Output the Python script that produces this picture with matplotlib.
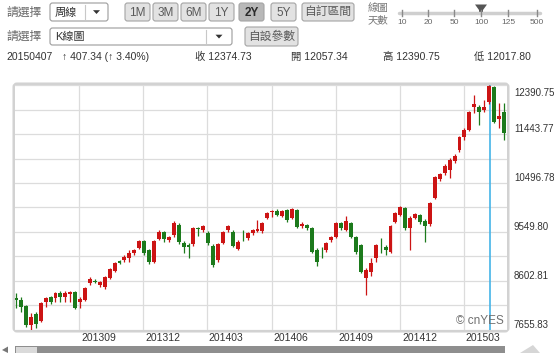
import datetime as dt
import numpy as np
import matplotlib
matplotlib.use('Agg')
import matplotlib.pyplot as plt
import matplotlib.dates as mdates
from matplotlib.patches import FancyBboxPatch, Rectangle, Polygon

plt.rcParams['font.family'] = ['Liberation Sans', 'Noto Sans CJK TC', 'DejaVu Sans']

# weekly K bars, first week starts 2013-06-03
start_week = dt.date(2013, 6, 3)
opens = [
    8274, 8236, 8120, 7752, 7965, 7830, 8197, 8294, 8274, 8371,
    8294, 8352, 8390, 8197, 8236, 8564, 8612, 8526, 8487, 8661,
    8796, 8980, 9009, 9047, 9144, 9241, 9376, 9202, 8970, 9415,
    9550, 9395, 9492, 9685, 9337, 9299, 9318, 9627, 9588, 9530,
    9279, 9009, 9337, 9588, 9550, 9221, 9424, 9434, 9530, 9569,
    9569, 9820, 9927, 9956, 9859, 9975, 9820, 9975, 9666, 9685,
    9627, 9202, 9076, 9202, 9395, 9453, 9724, 9588, 9724, 9453,
    9299, 8661, 8777, 9047, 9250, 9260, 9163, 9743, 9878, 10014,
    9627, 9820, 9878, 9762, 9704, 10207, 10574, 10690, 10748, 10922,
    11135, 11386, 11521, 11966, 11966, 11908, 12057.34, 12352, 11734, 11869,
]
highs = [
    8371, 8294, 8139, 7984, 8004, 8197, 8294, 8313, 8390, 8410,
    8410, 8410, 8410, 8294, 8487, 8680, 8641, 8603, 8699, 8854,
    8970, 9009, 9105, 9202, 9221, 9395, 9395, 9221, 9395, 9588,
    9569, 9473, 9762, 9724, 9376, 9337, 9646, 9646, 9685, 9569,
    9318, 9337, 9569, 9685, 9588, 9395, 9588, 9550, 9608, 9782,
    9743, 9936, 9975, 9994, 9975, 9994, 10014, 9994, 9743, 9704,
    9646, 9241, 9260, 9357, 9473, 9743, 9743, 9859, 9743, 9473,
    9318, 8854, 9047, 9318, 9434, 9299, 9685, 9936, 10052, 10033,
    9859, 9917, 9898, 9801, 10130, 10632, 10690, 10864, 10980, 11057,
    11405, 11560, 11888, 12198, 12004, 12101, 12390.75, 12380, 12043, 12043,
]
lows = [
    8081, 8004, 7714, 7655.83, 7694, 7810, 8100, 8158, 8197, 8197,
    8197, 8197, 8062, 8081, 8216, 8526, 8564, 8487, 8448, 8641,
    8777, 8931, 8970, 8970, 9105, 9221, 9105, 8931, 8951, 9395,
    9357, 9357, 9453, 9318, 9144, 9047, 9279, 9473, 9550, 9299,
    8873, 8970, 9318, 9550, 9260, 9202, 9376, 9395, 9492, 9550,
    9530, 9801, 9840, 9859, 9840, 9743, 9801, 9627, 9627, 9588,
    9144, 8893, 9047, 9163, 9357, 9434, 9588, 9569, 9434, 9125,
    8757, 8332, 8699, 8970, 9144, 9105, 9144, 9724, 9859, 9588,
    9202, 9801, 9704, 9357, 9666, 10188, 10535, 10651, 10593, 10883,
    11096, 11328, 11502, 11850, 11618, 11869, 12017.80, 11656, 11560, 11328,
]
closes = [
    8236, 8100, 7752, 7907, 7772, 8178, 8274, 8197, 8371, 8294,
    8371, 8390, 8081, 8255, 8468, 8641, 8593, 8583, 8680, 8835,
    8951, 8960, 9067, 9144, 9202, 9376, 9144, 8970, 9376, 9550,
    9415, 9453, 9724, 9357, 9260, 9260, 9627, 9608, 9666, 9337,
    8912, 9318, 9550, 9666, 9279, 9357, 9405, 9530, 9588, 9608,
    9724, 9917, 9946, 9878, 9956, 9782, 9994, 9646, 9704, 9627,
    9163, 8970, 9057, 9337, 9453, 9724, 9627, 9762, 9453, 9163,
    8777, 8815, 8951, 9299, 9231, 9202, 9666, 9917, 10033, 9627,
    9820, 9898, 9743, 9666, 10110, 10613, 10671, 10825, 10941, 11019,
    11386, 11521, 11869, 12024, 11869, 11967.39, 12374.73, 11676, 11792, 11463,
]
cursor = 96   # week shown in the info line

month_ticks = ['2013-09-01', '2013-12-01', '2014-03-01', '2014-06-01',
               '2014-09-01', '2014-12-01', '2015-03-01']
month_labels = ['201309', '201312', '201403', '201406', '201409', '201412', '201503']

info_date = '20150407'
info_change = '↑ 407.34 (↑ 3.40%)'
info_fields = [('收', '12374.73'), ('開', '12057.34'), ('高', '12390.75'), ('低', '12017.80')]

periods = ['1M', '3M', '6M', '1Y', '2Y', '5Y', '自訂區間']
slider_days = ['10', '20', '50', '100', '125', '500']

RED = '#cc1414'
GREEN = '#1c7a1c'
GRID = '#dcdcdc'

fig = plt.figure(figsize=(5.54, 3.53), dpi=100)
ui = fig.add_axes([0, 0, 1, 1])
ui.set_xlim(0, 554)
ui.set_ylim(353, 0)
ui.axis('off')


def box(x0, x1, y0, y1, fc, ec='#a0a0a0', r=2.5, lw=0.8):
    ui.add_patch(FancyBboxPatch((x0, y0), x1 - x0, y1 - y0,
                                boxstyle=f'round,pad=0,rounding_size={r}',
                                fc=fc, ec=ec, lw=lw))


def dropdown(x0, x1, y0, y1, label, sep):
    box(x0, x1, y0, y1, 'white', ec='#9c9c9c')
    ui.plot([sep, sep], [y0 + 2, y1 - 2], color='#c8c8c8', lw=0.8)
    ui.text(x0 + 5, (y0 + y1) / 2 + 0.5, label, ha='left', va='center',
            fontsize=8, color='#333333')
    cx, cy = (sep + x1) / 2, (y0 + y1) / 2
    ui.add_patch(Polygon([(cx - 3.5, cy - 1.8), (cx + 3.5, cy - 1.8), (cx, cy + 2)],
                         closed=True, fc='#333333', ec='none'))


# row 1
ui.text(6, 12.5, '請選擇', ha='left', va='center', fontsize=8.5, color='#666666')
dropdown(50, 108, 3, 21, '周線', 85)
button_x = [(125, 150), (153, 178), (181, 206), (209, 234), (239, 264), (271, 296), (302, 354)]
for (x0, x1), lab in zip(button_x, periods):
    sel = lab == '2Y'
    box(x0, x1, 3, 21, '#b8b8b8' if sel else '#e2e2e2', ec='#a4a4a4')
    ui.text((x0 + x1) / 2, 12.5, lab, ha='center', va='center', fontsize=8.5,
            color='#2a2a2a' if sel else '#5a5a5a', fontweight='bold' if sel else 'normal')

ui.text(368, 8, '線圖', ha='left', va='center', fontsize=7.5, color='#777777')
ui.text(368, 20, '天數', ha='left', va='center', fontsize=7.5, color='#777777')
slider_x = [402, 428, 454, 481, 508, 537]
ui.plot([399, 540], [13, 13], color='#cfcfcf', lw=2.5, solid_capstyle='round')
for sx, lab in zip(slider_x, slider_days):
    ui.plot([sx, sx], [10, 16], color='#8a8a8a', lw=1)
    ui.text(sx, 22.5, lab, ha='center', va='center', fontsize=6, color='#666666')
ui.add_patch(Polygon([(475, 4.5), (487, 4.5), (483, 10), (483, 15), (479, 15), (479, 10)],
                     closed=True, fc='#555555', ec='none'))

# row 2
ui.text(6, 36.5, '請選擇', ha='left', va='center', fontsize=8.5, color='#666666')
dropdown(50, 232, 28, 45, 'K線圖', 206)
box(245, 298, 27, 46, '#e2e2e2', ec='#a4a4a4')
ui.text(271.5, 36.5, '自設參數', ha='center', va='center', fontsize=8.5, color='#5a5a5a')

# row 3 : info of the selected week
ui.text(6, 57, info_date, ha='left', va='center', fontsize=7.5, color='#333333')
ui.text(62, 57, info_change, ha='left', va='center', fontsize=7.5, color='#333333')
for fx, (k, v) in zip([195, 291, 383, 474], info_fields):
    ui.text(fx, 57, f'{k} {v}', ha='left', va='center', fontsize=7.5, color='#333333')

# chart frame and scrollbar
box(14, 508, 84, 331, 'white', ec='#d2d2d2', r=3, lw=2.2)
ui.add_patch(Rectangle((15, 346), 490, 7, fc='#8e8e8e', ec='none'))
ui.add_patch(Rectangle((16, 346.5), 21, 6.5, fc='#dadada', ec='none'))
ui.add_patch(Polygon([(520, 353), (533, 345), (540, 353)], closed=True, fc='#d6d6d6', ec='none'))
ui.add_patch(Polygon([(2, 350), (8, 346.5), (8, 353)], closed=True, fc='#777777', ec='none'))

# candle chart
ax = fig.add_axes([15 / 554, 23 / 353, 492 / 554, 245 / 353])
ax.set_facecolor('white')
for s in ax.spines.values():
    s.set_visible(False)

dates = [start_week + dt.timedelta(weeks=i) for i in range(len(opens))]
x = mdates.date2num(dates)
o = np.array(opens, dtype=float)
h = np.array(highs, dtype=float)
l = np.array(lows, dtype=float)
c = np.array(closes, dtype=float)
cols = np.where(c >= o, RED, GREEN)

ymin, ymax = l.min(), h.max()
ax.set_ylim(ymin, ymax)
ax.set_xlim(x[0] - 1.5, x[0] + 697.5)

grid_levels = np.linspace(ymin, ymax, 11)
ax.set_yticks(grid_levels)
tick_x = mdates.date2num([dt.date.fromisoformat(d) for d in month_ticks])
ax.set_xticks(tick_x)
ax.grid(True, color=GRID, lw=0.9)
ax.set_axisbelow(True)
ax.tick_params(length=0, labelbottom=False, labelleft=False)

ax.axvline(x[cursor] + 0.8, color='#44b4e8', lw=1.2, zorder=1.5)
ax.vlines(x, l, h, colors=cols, lw=0.9, zorder=2)
body = np.maximum(np.abs(c - o), 18)
ax.bar(x, body, bottom=np.minimum(o, c), width=5.6, color=cols, lw=0, zorder=3)

for tx, lab in zip(tick_x, month_labels):
    ax.text(tx + 3, -0.012, lab, transform=ax.get_xaxis_transform(), ha='left', va='top',
            fontsize=7.5, color='#333333')

label_levels = np.linspace(ymin, ymax, 6)
for k, v in enumerate(label_levels):
    yf = 1 - 0.033 if k == len(label_levels) - 1 else k / 5 + 0.022
    ax.text(1.014, yf, f'{v:.2f}', transform=ax.transAxes, ha='left', va='center',
            fontsize=7, color='#333333', clip_on=False)

ax.text(0.994, 0.035, '© cnYES', transform=ax.transAxes, ha='right', va='center',
        fontsize=8.5, color='#707070', zorder=5)

fig.savefig('out.png', dpi=100)
